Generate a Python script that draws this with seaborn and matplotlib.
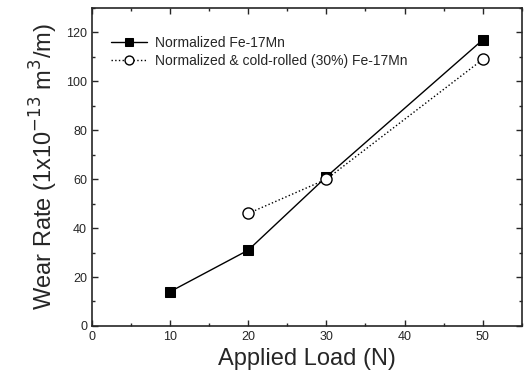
import pandas as pd
import matplotlib
matplotlib.use("Agg")
import matplotlib.pyplot as plt
import seaborn as sns
from matplotlib.ticker import MultipleLocator

sns.set_style("ticks")
plt.rcParams['font.family'] = ['Liberation Sans', 'DejaVu Sans']
plt.rcParams['axes.unicode_minus'] = False

# Daten
load_norm = [10, 20, 30, 50]
wear_norm = [14, 31, 61, 117]
load_cold = [20, 30, 50]
wear_cold = [46, 60, 109]

label_norm = "Normalized Fe-17Mn"
label_cold = "Normalized & cold-rolled (30%) Fe-17Mn"

df = pd.concat([
    pd.DataFrame({"load": load_norm, "wear": wear_norm, "series": label_norm}),
    pd.DataFrame({"load": load_cold, "wear": wear_cold, "series": label_cold}),
])

fig = plt.figure(figsize=(5.25, 3.83), dpi=100)
ax = fig.add_axes([0.175, 0.149, 0.819, 0.830])

sns.lineplot(data=df[df.series == label_norm], x="load", y="wear",
             color="black", linestyle="-", linewidth=1.0,
             marker="s", markersize=7, markerfacecolor="black",
             markeredgecolor="black", label=label_norm, ax=ax)
sns.lineplot(data=df[df.series == label_cold], x="load", y="wear",
             color="black", linestyle=":", linewidth=1.0,
             marker="o", markersize=8, markerfacecolor="white",
             markeredgecolor="black", markeredgewidth=1.0,
             label=label_cold, ax=ax)

ax.set_xlim(0, 55)
ax.set_ylim(0, 130)
ax.xaxis.set_major_locator(MultipleLocator(10))
ax.xaxis.set_minor_locator(MultipleLocator(5))
ax.yaxis.set_major_locator(MultipleLocator(20))
ax.yaxis.set_minor_locator(MultipleLocator(10))
ax.tick_params(which="both", direction="in", top=True, right=True,
               labelsize=9, width=1.0)
ax.tick_params(which="major", length=4)
ax.tick_params(which="minor", length=2.5)
for s in ax.spines.values():
    s.set_linewidth(1.2)

ax.set_xlabel("Applied Load (N)", fontsize=17)
ax.set_ylabel("Wear Rate (1x10$^{\\mathrm{-13}}$ m$^3$/m)", fontsize=17)

leg = ax.legend(loc="upper left", bbox_to_anchor=(0.015, 0.952), frameon=False,
                fontsize=10, handlelength=2.6, handletextpad=0.6,
                labelspacing=0.3, markerscale=0.8)

fig.savefig("out.png", dpi=100)
